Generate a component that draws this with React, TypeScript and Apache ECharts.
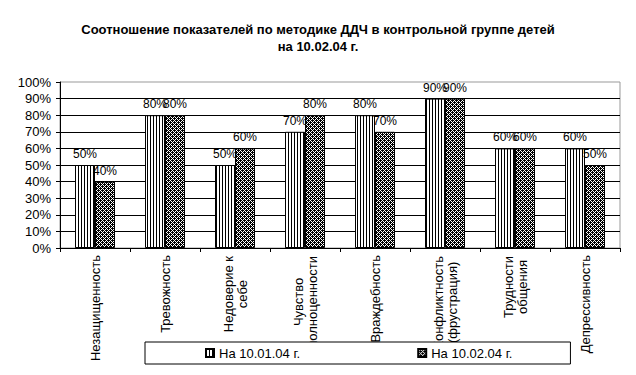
import React, { useEffect, useRef } from "react";
import * as echarts from "echarts";

const titleLines = [
  "Соотношение показателей по методике ДДЧ в контрольной группе детей",
  "на 10.02.04 г.",
];
const categories = [
  "Незащищенность",
  "Тревожность",
  "Недоверие к\nсебе",
  "Чувство\nполноценности",
  "Враждебность",
  "Конфликтность\n(фрустрация)",
  "Трудности\nобщения",
  "Депрессивность",
];
const seriesNames = ["На 10.01.04 г.", "На 10.02.04 г."];
const series1 = [50, 80, 50, 70, 80, 90, 60, 60];
const series2 = [40, 80, 60, 80, 70, 90, 60, 50];

const FONT = "Arial, 'Liberation Sans', sans-serif";

function makeCanvas(w: number, h: number, fill: (x: number, y: number) => boolean) {
  const c = document.createElement("canvas");
  c.width = w;
  c.height = h;
  const ctx = c.getContext("2d")!;
  const img = ctx.createImageData(w, h);
  for (let y = 0; y < h; y++) {
    for (let x = 0; x < w; x++) {
      const black = fill(x, y);
      const i = (y * w + x) * 4;
      const v = black ? 0 : 255;
      img.data[i] = v;
      img.data[i + 1] = v;
      img.data[i + 2] = v;
      img.data[i + 3] = 255;
    }
  }
  ctx.putImageData(img, 0, 0);
  return c;
}

export default function App() {
  const ref = useRef<HTMLDivElement>(null);
  useEffect(() => {
    if (!ref.current) return;
    const chart = echarts.init(ref.current, undefined, { renderer: "svg" });

    const stripes = makeCanvas(3, 2, (x) => x === 0);
    const dotRows = ["BBWB", "BWBW", "WBBB", "BWBW"];
    const dots = makeCanvas(4, 4, (x, y) => dotRows[y][x] === "B");

    const mctx = document.createElement("canvas").getContext("2d")!;
    mctx.font = "13px Arial, 'Liberation Sans'";
    const rich: Record<string, any> = {};
    categories.forEach((c, i) => {
      const lines = c.split("\n");
      const w = Math.max(...lines.map((l) => mctx.measureText(l).width)) + 2;
      rich["c" + i] = { width: w, align: "center", fontSize: 13, lineHeight: 14, fontFamily: FONT, color: "#000" };
    });

    const labelStyle = {
      show: true,
      position: "top",
      distance: 5,
      formatter: "{c}%",
      fontFamily: FONT,
      fontSize: 12,
      color: "#000",
    };

    chart.setOption({
      animation: false,
      backgroundColor: "#fff",
      title: {
        text: titleLines.join("\n"),
        left: "center",
        top: 16,
        textStyle: { fontFamily: FONT, fontSize: 13, fontWeight: "bold", color: "#000", lineHeight: 17 },
      },
      grid: {
        left: 60,
        right: 16,
        top: 82,
        bottom: 127,
        show: true,
        borderColor: "#999",
        borderWidth: 1,
      },
      legend: {
        left: 145,
        top: 342,
        padding: [4, 58, 4, 60],
        itemGap: 117,
        itemWidth: 8,
        itemHeight: 8,
        icon: "rect",
        backgroundColor: "#fff",
        borderColor: "#000",
        borderWidth: 1,
        borderRadius: 0,
        textStyle: { fontFamily: FONT, fontSize: 13, color: "#000", lineHeight: 14 },
        data: seriesNames,
      },
      xAxis: {
        type: "category",
        data: categories,
        axisLine: { lineStyle: { color: "#000", width: 1 } },
        axisTick: { show: true, length: 4, lineStyle: { color: "#000" } },
        axisLabel: {
          rotate: 90,
          interval: 0,
          margin: 7,
          fontFamily: FONT,
          fontSize: 13,
          color: "#000",
          lineHeight: 14,
          rich,
          formatter: (v: string, i: number) => {
            const lines = v.split("\n");
            if (lines.length === 1) return v;
            return lines.map((l) => `{c${i}|${l}}`).join("\n");
          },
        },
        splitLine: { show: false },
      },
      yAxis: {
        type: "value",
        min: 0,
        max: 100,
        interval: 10,
        axisLine: { show: true, lineStyle: { color: "#000", width: 1 } },
        axisTick: { show: true, length: 4, lineStyle: { color: "#000" } },
        axisLabel: { formatter: "{value}%", fontFamily: FONT, fontSize: 13, color: "#000", margin: 9 },
        splitLine: { show: true, showMaxLine: false, lineStyle: { color: "#000", width: 1 } },
      },
      series: [
        {
          name: seriesNames[0],
          type: "bar",
          data: series1,
          barWidth: 20,
          barGap: "0%",
          itemStyle: { color: { image: stripes, repeat: "repeat" }, borderColor: "#000", borderWidth: 1 },
          label: labelStyle,
        },
        {
          name: seriesNames[1],
          type: "bar",
          data: series2,
          barWidth: 20,
          barGap: "0%",
          itemStyle: { color: { image: dots, repeat: "repeat" }, borderColor: "#000", borderWidth: 1 },
          label: labelStyle,
        },
      ],
    });
    return () => chart.dispose();
  }, []);
  return <div ref={ref} style={{ width: 636, height: 375, position: "absolute", left: 0, top: 0 }} />;
}
